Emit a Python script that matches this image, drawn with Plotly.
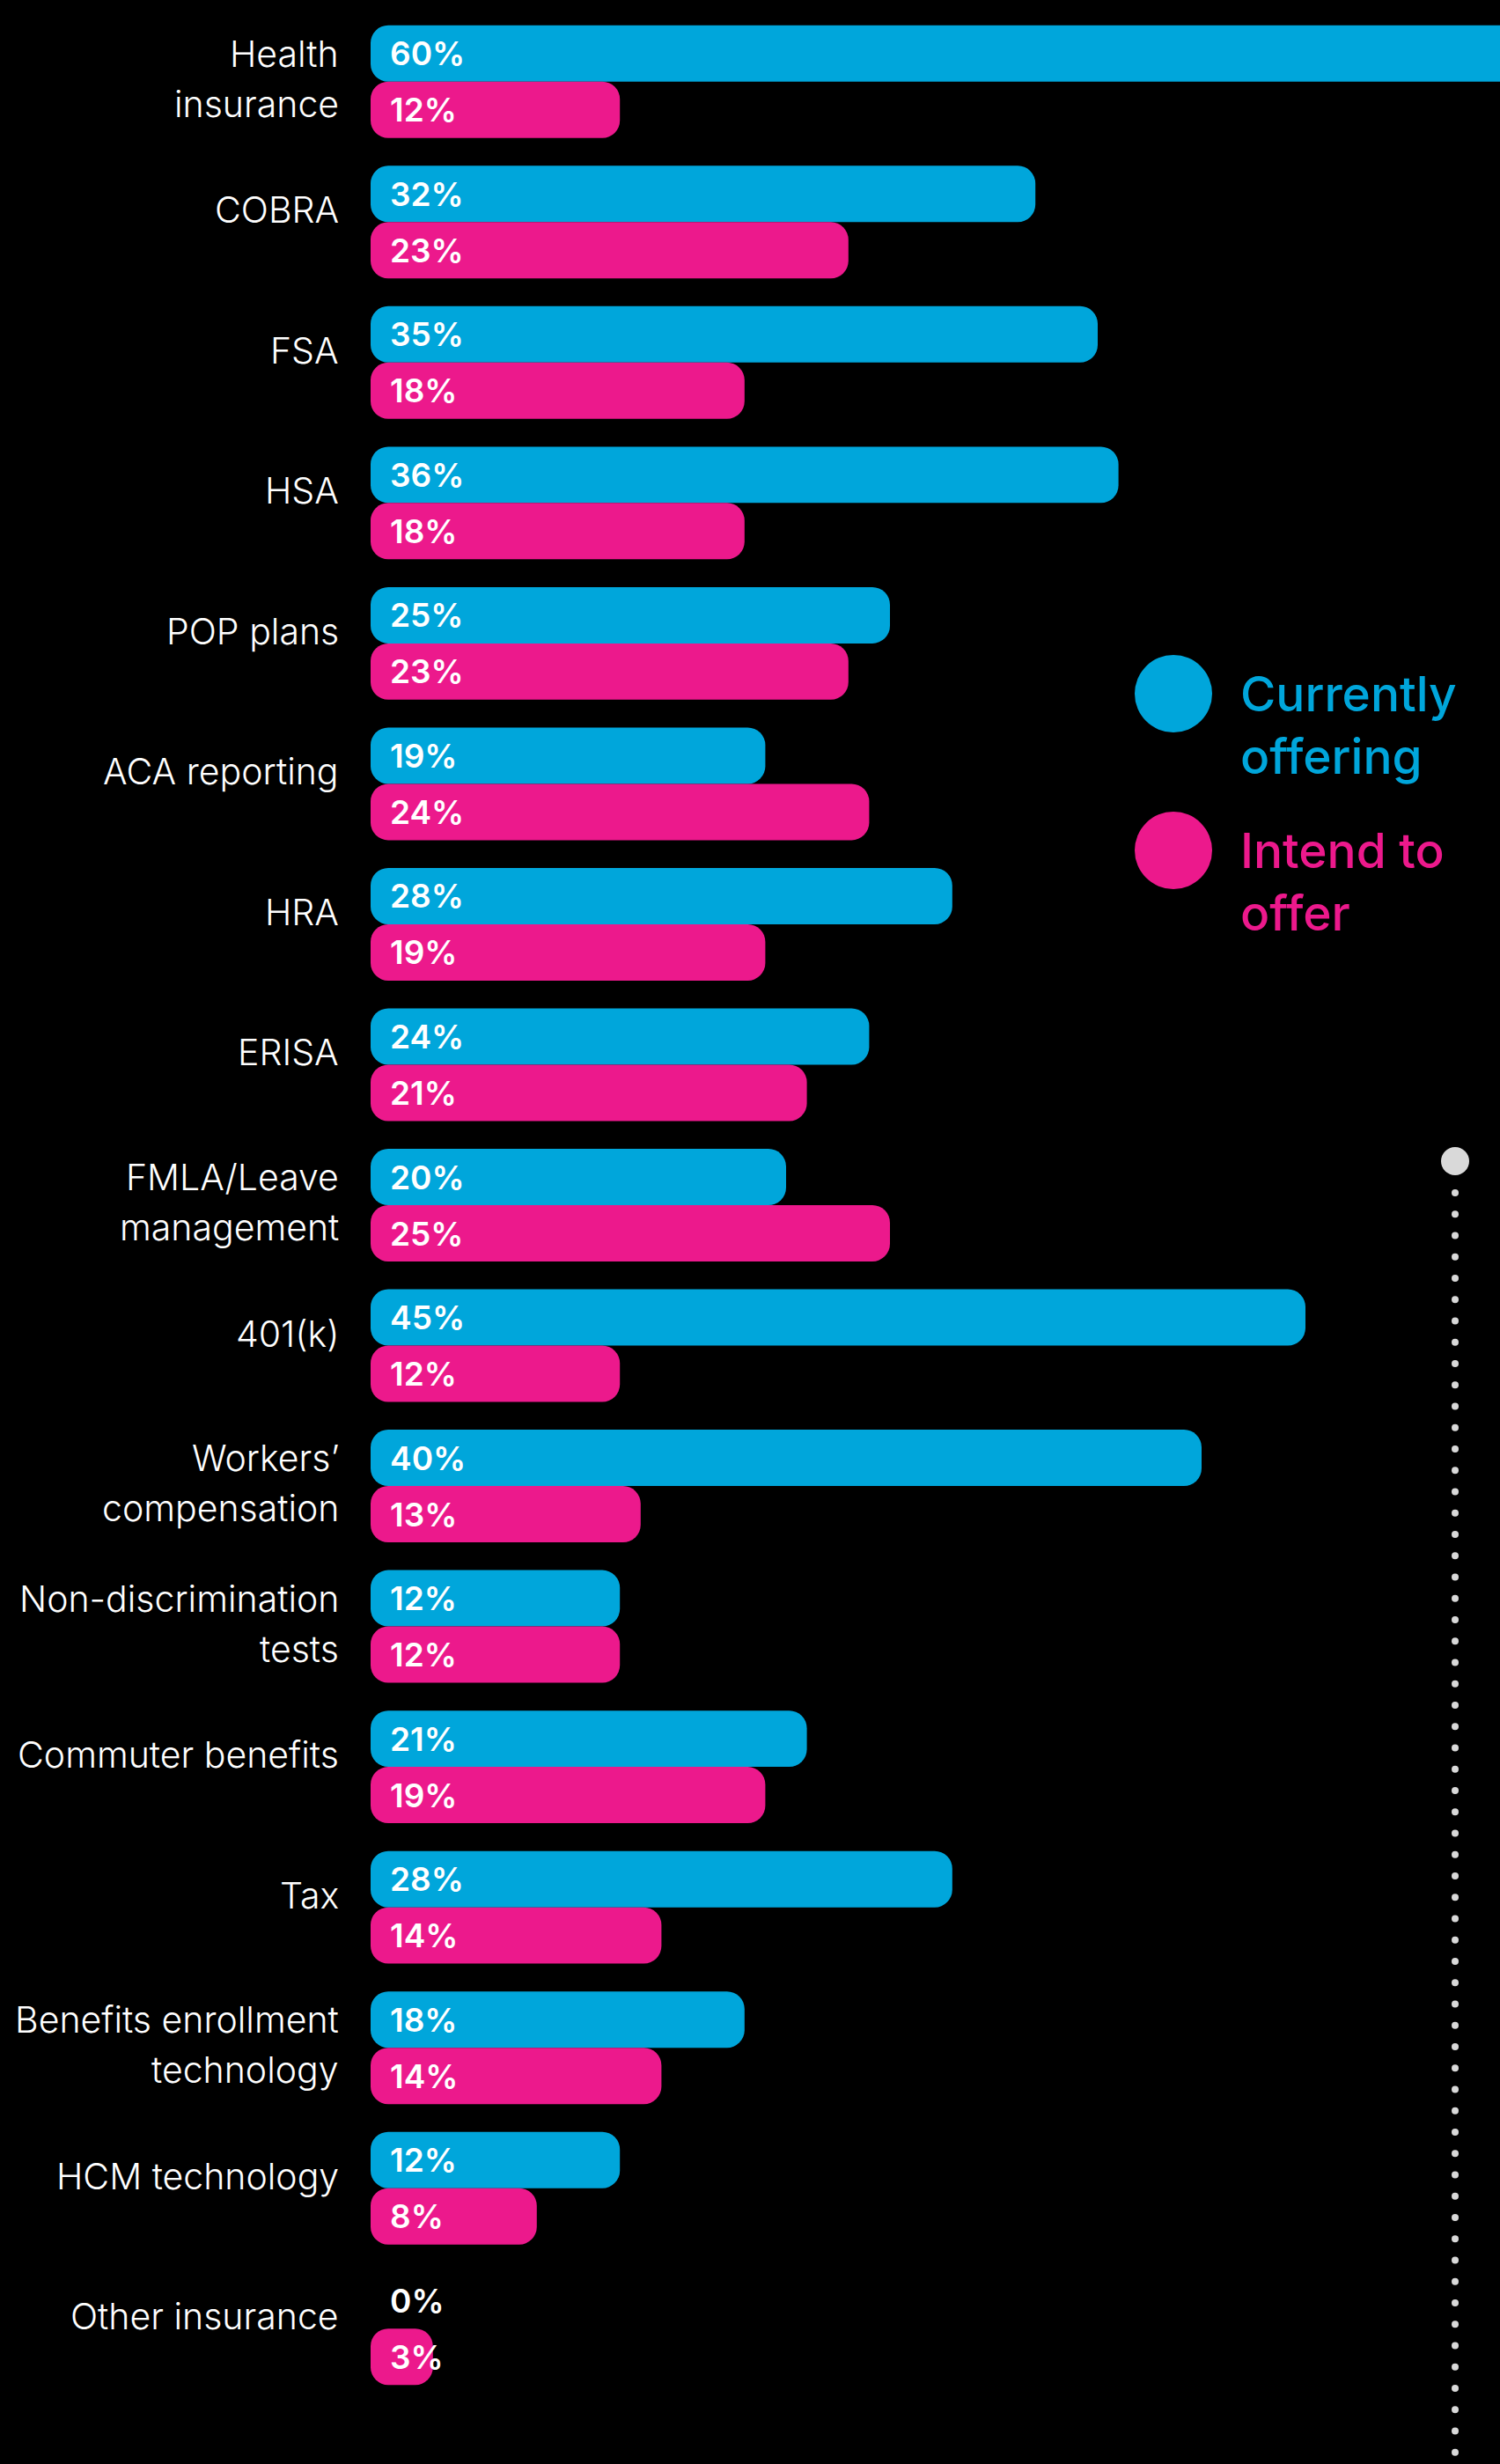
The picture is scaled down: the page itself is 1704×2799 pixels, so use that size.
import plotly.graph_objects as go

categories = ["Health<br>insurance", "COBRA", "FSA", "HSA", "POP plans", "ACA reporting",
              "HRA", "ERISA", "FMLA/Leave<br>management", "401(k)", "Workers’<br>compensation",
              "Non-discrimination<br>tests", "Commuter benefits", "Tax",
              "Benefits enrollment<br>technology", "HCM technology", "Other insurance"]
currently_offering = [60, 32, 35, 36, 25, 19, 28, 24, 20, 45, 40, 12, 21, 28, 18, 12, 0]
intend_to_offer = [12, 23, 18, 18, 23, 24, 19, 21, 25, 12, 13, 12, 19, 14, 14, 8, 3]
series_names = [["Currently", "offering"], ["Intend to", "offer"]]

BLUE = "#00A6DB"
PINK = "#EC198C"
W, H = 1704, 2799
ML, MR, MT, MB = 421, 0, 13, 74
PW, PH = W - ML - MR, H - MT - MB
XMAX = PW / 23.6

def px(x):
    return (x - ML) / PW

def py(y):
    return (H - MB - y) / PH

fig = go.Figure()
n = len(categories)
ys = list(range(n))
BW = 0.401

for vals, color, off in [(currently_offering, BLUE, -BW), (intend_to_offer, PINK, 0.0)]:
    fig.add_trace(go.Bar(
        y=ys, x=vals, base=[0] * n, orientation="h", width=BW, offset=off,
        marker=dict(color=color, line=dict(width=0), cornerradius=20),
        hoverinfo="skip", showlegend=False))

annotations = []
# category labels (one annotation per line for line-spacing control)
for i, cat in enumerate(categories):
    lines = cat.split("<br>")
    shifts = [14] if len(lines) == 1 else [32, -25]
    for line, s in zip(lines, shifts):
        annotations.append(dict(
            x=0, y=i, xref="x", yref="y", text=line, showarrow=False,
            xanchor="right", yanchor="middle", xshift=-34, yshift=s,
            font=dict(family="Inter", size=41, color="white", weight=300)))

# value labels
for i in range(n):
    for vals, shift in [(currently_offering, 32), (intend_to_offer, -32)]:
        annotations.append(dict(
            x=0, y=i, xref="x", yref="y", text=f"{vals[i]}%", showarrow=False,
            xanchor="left", yanchor="middle", xshift=20, yshift=shift,
            font=dict(family="Inter", size=37, color="white", weight=600)))

# legend
shapes = []
for (cy, color, name) in [(788, BLUE, series_names[0]), (966, PINK, series_names[1])]:
    shapes.append(dict(type="circle", xref="paper", yref="paper", xsizemode="pixel", ysizemode="pixel",
                       xanchor=px(1333), yanchor=py(cy), x0=-44, x1=44, y0=-44, y1=44,
                       fillcolor=color, line=dict(width=0)))
    for k, line in enumerate(name):
        annotations.append(dict(x=px(1407), y=py(cy + k * 71), xref="paper", yref="paper", text=line,
                                showarrow=False, xanchor="left", yanchor="middle", align="left",
                                font=dict(family="Inter", size=55, color=color, weight=500)))

# decorative dotted line
DOT = "#D9D9D9"
shapes.append(dict(type="circle", xref="paper", yref="paper", xsizemode="pixel", ysizemode="pixel",
                   xanchor=px(1653), yanchor=py(1319), x0=-16, x1=16, y0=-16, y1=16,
                   fillcolor=DOT, line=dict(width=0)))
for k in range(60):
    yy = 1355 + k * 24.25
    shapes.append(dict(type="circle", xref="paper", yref="paper", xsizemode="pixel", ysizemode="pixel",
                       xanchor=px(1653), yanchor=py(yy), x0=-4, x1=4, y0=-4, y1=4,
                       fillcolor=DOT, line=dict(width=0)))

fig.update_layout(
    width=W, height=H, barmode="overlay",
    margin=dict(l=ML, r=MR, t=MT, b=MB, pad=0),
    paper_bgcolor="black", plot_bgcolor="black",
    xaxis=dict(range=[0, XMAX], visible=False, fixedrange=True),
    yaxis=dict(range=[n - 0.5, -0.5], visible=False, showgrid=False, zeroline=False),
    annotations=annotations, shapes=shapes, showlegend=False,
)

fig.write_html("out.html")
